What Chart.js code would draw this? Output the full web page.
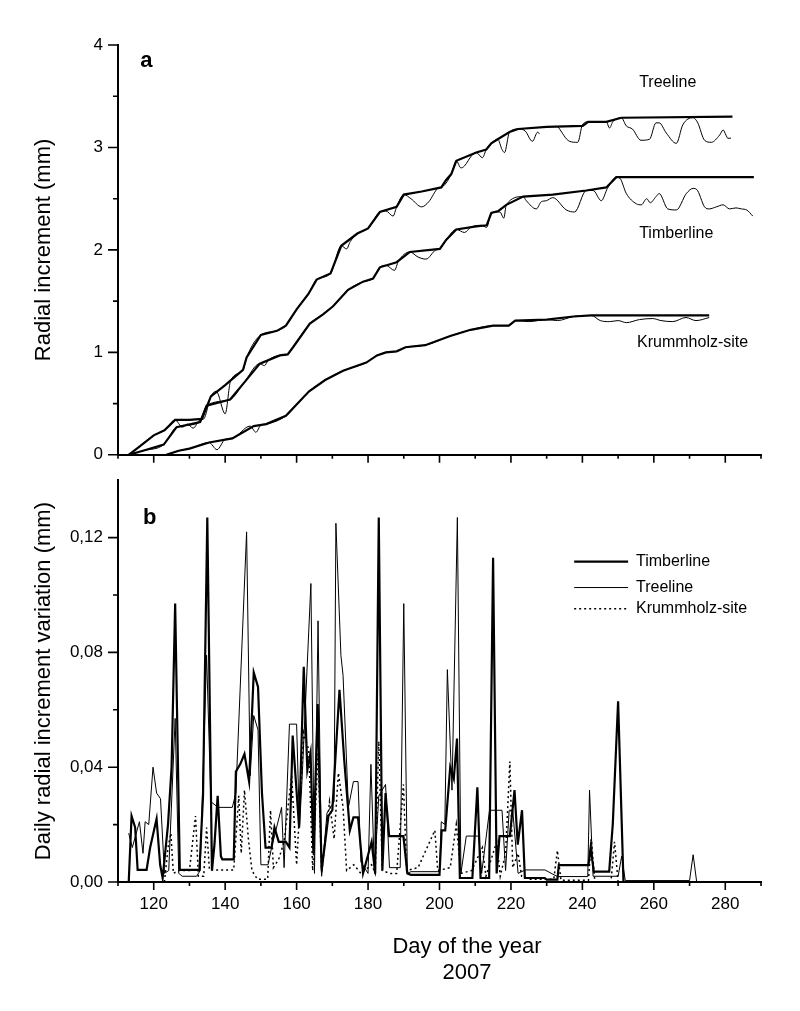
<!DOCTYPE html>
<html>
<head>
<meta charset="utf-8">
<script src="https://cdn.jsdelivr.net/npm/chart.js"></script>
<style>
  html, body { margin: 0; padding: 0; background: #fff; }
  #wrap { position: relative; width: 800px; height: 1011px; }
  canvas { position: absolute; left: 0; }
  #top { top: 0; }
  #bottom { top: 455px; }
</style>
</head>
<body>
<div id="wrap">
  <canvas id="top" width="800" height="480"></canvas>
  <canvas id="bottom" width="800" height="556"></canvas>
</div>
<script>
// ---- data: [day of year, value] ----
// panel a: radial increment (mm), thick = envelope, thin = raw dendrometer
const treelineMax = [[113,0],[116,0.08],[120,0.19],[123,0.24],[126,0.34],[130,0.34],[133.5,0.35],[136,0.57],[140,0.68],[145,0.83],[146,0.95],[150,1.17],[154.5,1.21],[157,1.26],[160,1.42],[163.3,1.57],[165.6,1.71],[169.5,1.77],[172.5,2.04],[177,2.16],[180,2.21],[183.3,2.37],[188,2.42],[190,2.54],[195,2.57],[200.5,2.61],[201.8,2.68],[203.3,2.74],[204.7,2.87],[210.3,2.95],[213.1,2.98],[214.5,3.04],[216.3,3.08],[219.6,3.15],[222,3.18],[230,3.20],[240.1,3.21],[241.6,3.25],[246.7,3.25],[250.9,3.29],[282,3.30]];
const treelineRaw = [[113,0],[116,0.08],[120,0.19],[123,0.24],[126,0.34],[128,0.27],[129.5,0.30],[131,0.26],[133,0.34],[134,0.35],[136,0.57],[137.5,0.62],[140,0.40],[141.5,0.72],[145,0.83],[146,0.95],[150,1.17],[154.5,1.21],[157,1.26],[160,1.42],[163.3,1.57],[165.6,1.71],[169.5,1.77],[172.5,2.04],[174,2.01],[175,2.08],[177,2.16],[180,2.21],[183.3,2.37],[185,2.38],[187,2.33],[188,2.42],[190,2.54],[192,2.50],[195,2.42],[197,2.47],[199.5,2.60],[201,2.62],[203.3,2.74],[204.7,2.87],[206,2.80],[207,2.82],[209,2.92],[210.3,2.95],[212,2.90],[213.1,2.98],[214.5,3.04],[216.3,3.08],[217.5,2.98],[218.2,2.95],[219.6,3.15],[222,3.18],[224,3.16],[226,3.06],[227.5,3.15],[228,3.13],[230,null],[233.2,3.20],[236.4,3.06],[238.7,3.05],[240,3.22],[241.6,3.25],[246.7,3.25],[247.6,3.19],[248.5,3.25],[250.9,3.29],[252.3,3.21],[254,3.18],[256.4,3.07],[258.8,3.08],[260.6,3.24],[261.5,3.24],[263.5,3.14],[266.3,3.04],[268.1,3.22],[271,3.29],[272.3,3.24],[274.2,3.07],[276.1,3.05],[278.4,3.12],[279.4,3.17],[280.2,3.12],[280.7,3.09],[281.6,3.09]];
const timberlineMax = [[113,0],[117,0.04],[122.8,0.10],[126.4,0.27],[133,0.32],[134.8,0.48],[141.4,0.54],[145.2,0.70],[149.7,0.89],[155.3,0.97],[157.5,0.98],[159,1.05],[163.7,1.28],[167.4,1.37],[170.2,1.45],[174.4,1.61],[178.6,1.69],[181.4,1.72],[183.3,1.83],[188,1.88],[191.7,1.98],[200.1,2.01],[201.9,2.10],[204.7,2.20],[210.3,2.23],[213.2,2.24],[214.5,2.36],[216.5,2.38],[218.7,2.44],[223.4,2.52],[231.7,2.54],[241.1,2.58],[246.7,2.61],[249.5,2.71],[288,2.71]];
const timberlineRaw = [[113,0],[117,0.04],[122.8,0.10],[126.4,0.27],[133,0.32],[134.8,0.48],[141.4,0.54],[145.2,0.70],[149.7,0.89],[151,0.87],[152,0.92],[155.3,0.97],[157.5,0.98],[159,1.05],[163.7,1.28],[167.4,1.37],[170.2,1.45],[174.4,1.61],[178.6,1.69],[181.4,1.72],[183.3,1.83],[185,1.85],[187.4,1.80],[188.5,1.89],[191.7,1.98],[194,1.93],[196.2,1.91],[199,2.00],[200.1,2.01],[201.9,2.10],[204.7,2.20],[207,2.17],[208.7,2.22],[211.7,2.24],[213.2,2.22],[214.5,2.36],[216.9,2.37],[218,2.31],[218.7,2.44],[223.4,2.52],[224.3,2.48],[227.1,2.40],[228.5,2.47],[229.9,2.48],[231.7,2.51],[235.5,2.39],[237.8,2.37],[241.1,2.58],[243,2.58],[245.3,2.48],[247,2.60],[249.5,2.71],[250.5,2.70],[252.3,2.55],[255.1,2.45],[256.5,2.44],[258,2.50],[259,2.46],[260.6,2.52],[261.5,2.55],[263.9,2.40],[266.3,2.39],[269.1,2.55],[271,2.60],[272,2.59],[274.2,2.42],[275.5,2.40],[277.5,2.42],[279.4,2.44],[281.2,2.40],[283,2.41],[284.5,2.40],[286,2.39],[287.7,2.33]];
const krummholzMax = [[123.5,0],[127,0.04],[130,0.06],[135.5,0.12],[142,0.16],[148,0.28],[151.5,0.30],[157,0.38],[163.5,0.62],[168,0.73],[173,0.82],[179.5,0.90],[182.5,0.97],[185,1.00],[188,1.01],[190.5,1.05],[196,1.07],[203,1.16],[208.7,1.22],[215,1.26],[219.4,1.26],[221.2,1.31],[230,1.32],[237.5,1.35],[242.5,1.36],[275.5,1.36]];
const krummholzRaw = [[123.5,0],[127,0.04],[130,0.06],[135.5,0.12],[137.7,0.05],[140,0.15],[142,0.16],[147,0.28],[148.6,0.22],[150,0.29],[151.5,0.30],[157,0.38],[163.5,0.62],[168,0.73],[173,0.82],[179.5,0.90],[182.5,0.97],[185,1.00],[188,1.01],[190.5,1.05],[196,1.07],[203,1.16],[208.7,1.22],[215,1.26],[219.4,1.26],[221.2,1.31],[225,1.30],[230,1.32],[233,1.31],[237.5,1.35],[242.5,1.36],[245,1.31],[247.6,1.30],[250,1.31],[252.3,1.29],[256,1.32],[259.7,1.33],[262,1.31],[265.3,1.30],[269,1.34],[271.8,1.31],[275.5,1.34]];

// panel b: daily radial increment variation (mm)
const timberlineDaily = [[113,0],[113.8,0.023],[114.8,0.019],[115.5,0.0042],[118,0.0042],[119,0.012],[120.8,0.022],[121.8,0.006],[122.5,0.0014],[124,0.02],[125,0.04],[126,0.097],[127.3,0.0042],[132.8,0.0042],[133.8,0.03],[135,0.127],[136.3,0.004],[137,0.013],[137.9,0.030],[138.8,0.009],[139.2,0.0079],[142.4,0.0079],[143,0.0385],[144.2,0.041],[145.4,0.0446],[146.7,0.035],[148,0.073],[149.2,0.068],[150.3,0.031],[151.3,0.012],[153,0.012],[153.8,0.019],[155,0.014],[157,0.014],[158,0.012],[158.9,0.051],[160.7,0.019],[162,0.075],[163,0.039],[163.9,0.045],[164.7,0.01],[165.9,0.062],[167,0.004],[168.9,0.023],[170,0.025],[172,0.067],[173.3,0.043],[174.9,0.018],[175.9,0.0225],[177.2,0.0225],[178.6,0.003],[181,0.014],[182,0.003],[183,0.127],[184,0.004],[184.9,0.031],[185.9,0.016],[189.9,0.016],[191,0.003],[192,0.0025],[200,0.0025],[200.6,0.018],[201.6,0.018],[203,0.040],[204,0.036],[204.9,0.050],[205.7,0.0014],[209.2,0.0014],[210.6,0.033],[211.5,0.0014],[213.9,0.0014],[215,0.113],[216,0.003],[216.8,0.016],[219.7,0.016],[221,0.032],[221.9,0.013],[223.1,0.025],[223.9,0.0014],[229.5,0.0014],[230,0.0008],[233,0.0008],[233.4,0.0059],[241.7,0.0059],[242.3,0.012],[243.2,0.0036],[247.5,0.0036],[248.5,0.02],[250,0.063],[251.5,0],[252,0]];
const treelineDaily = [[113,0.017],[114,0.012],[116,0.021],[117,0.01],[117.6,0.021],[118.6,0.020],[119.8,0.040],[120.8,0.031],[121.9,0.029],[123,0.003],[124.2,0.004],[126,0.057],[127,0.003],[128,0.002],[132,0.002],[133,0.004],[134.8,0.079],[136,0.028],[138,0.026],[142,0.026],[143,0.031],[146,0.122],[147,0.037],[148,0.058],[149.2,0.053],[150,0.006],[152,0.006],[153,0.012],[155.8,0.026],[156.5,0.005],[158,0.055],[160,0.055],[160.8,0.019],[161.5,0.035],[164,0.104],[165,0.003],[166,0.091],[167,0.002],[168.5,0.024],[170.5,0.028],[171,0.125],[172.4,0.079],[173,0.072],[174.5,0.026],[175.9,0.035],[177.2,0.035],[178,0.007],[180,0.003],[180.8,0.041],[181.8,0.003],[183,0.03],[184.9,0.034],[186,0.005],[189,0.005],[190,0.097],[191,0.003],[192,0.0036],[200,0.0036],[200.5,0.021],[201.5,0.02],[202.2,0.074],[203.5,0.032],[205,0.127],[206,0.003],[207.5,0.016],[211,0.016],[211.8,0.003],[214,0.025],[217.5,0.025],[218.5,0.004],[219.5,0.025],[220.5,0.025],[222,0.003],[224,0.0042],[229.5,0.0042],[233,0.0019],[241.5,0.0019],[242,0.032],[243,0.002],[250,0.002],[251,0.009],[252,0.0005],[270,0.0005],[271,0.0095],[272,0]];
const krummholzDaily = [[123,0],[124,0.012],[124.8,0.017],[125.5,0.003],[127,0.004],[130,0.004],[131.7,0.023],[132.5,0.002],[134,0.002],[134.8,0.019],[135.6,0.0042],[142.4,0.0042],[143.8,0.030],[144.5,0.01],[145.4,0.032],[146.5,0.015],[147.5,0.004],[149,0.001],[151.9,0.001],[152.7,0.025],[153.5,0.005],[155,0.008],[156.5,0.014],[158.6,0.037],[160,0.006],[162,0.052],[163.4,0.046],[164.5,0.004],[166,0.045],[167,0.003],[169.2,0.028],[170.5,0.015],[171.7,0.038],[173,0.026],[174,0.004],[176,0.006],[178,0.003],[181,0.006],[182,0.003],[183,0.049],[184,0.004],[186,0.003],[188,0.003],[189.9,0.034],[190.8,0.004],[194,0.005],[198.7,0.018],[199.5,0.004],[203,0.005],[204.7,0.02],[206,0.003],[209,0.004],[212,0.012],[213,0.002],[216,0.014],[217,0.002],[218.5,0.01],[219.7,0.042],[220.5,0.005],[222,0.01],[223,0.002],[225,0.001],[232,0.001],[233,0.011],[234,0.0006],[241.7,0.0006],[242.5,0.015],[243.5,0],[248,0],[249,0.014],[250,0],[251,0]];

// tick labels
const dayTicks = [120, 140, 160, 180, 200, 220, 240, 260, 280];
const mmTicks = [0, 1, 2, 3, 4];
const varTicks = [0, 0.04, 0.08, 0.12];

const FONT = "'Liberation Sans', Arial, sans-serif";
Chart.defaults.font.family = FONT;
Chart.defaults.color = "#000";

function pts(pairs) {
  return pairs.map(p => ({ x: p[0], y: p[1] }));
}

function series(label, pairs, width, dash, smooth) {
  return {
    label: label,
    data: pts(pairs),
    borderColor: "#000",
    borderWidth: width,
    borderDash: dash || [],
    pointRadius: 0,
    tension: smooth ? 0.3 : 0,
    cubicInterpolationMode: smooth ? "monotone" : "default",
    fill: false,
    spanGaps: false
  };
}

// small/large tick marks like the original plot (major every 20 days)
var xMarks = [];
for (var d = 110; d <= 290; d += 10) xMarks.push([d, d % 20 === 0 ? 8 : 4]);
var yMarksA = [];
for (var i = 0; i <= 8; i++) yMarksA.push([i * 0.5, i % 2 === 0 ? 10 : 5]);
var yMarksB = [];
for (var j = 0; j <= 6; j++) yMarksB.push([j * 0.02, j % 2 === 0 ? 10 : 5]);

const tickMarks = {
  id: "tickMarks",
  afterDraw(chart, args, opts) {
    const ctx = chart.ctx, area = chart.chartArea;
    const xs = chart.scales.x, ys = chart.scales.y;
    ctx.save();
    ctx.strokeStyle = "#000";
    ctx.lineWidth = 1.6;
    ctx.beginPath();
    opts.x.forEach(m => {
      const px = xs.getPixelForValue(m[0]);
      ctx.moveTo(px, area.bottom);
      ctx.lineTo(px, area.bottom + m[1]);
    });
    opts.y.forEach(m => {
      const py = ys.getPixelForValue(m[0]);
      ctx.moveTo(area.left, py);
      ctx.lineTo(area.left - m[1], py);
    });
    ctx.stroke();
    ctx.restore();
  }
};

const notes = {
  id: "notes",
  afterDraw(chart, args, opts) {
    const ctx = chart.ctx, xs = chart.scales.x, ys = chart.scales.y;
    ctx.save();
    ctx.fillStyle = "#000";
    ctx.textBaseline = "middle";
    (opts.items || []).forEach(n => {
      ctx.font = n.font;
      ctx.textAlign = n.align || "left";
      const py = n.dy !== undefined ? chart.chartArea.bottom + n.dy : ys.getPixelForValue(n.y);
      ctx.fillText(n.text, xs.getPixelForValue(n.x), py);
    });
    // legend keys, styled from the datasets
    (opts.keys || []).forEach(k => {
      const ds = chart.data.datasets[k.index];
      const py = ys.getPixelForValue(k.y);
      ctx.beginPath();
      ctx.setLineDash(ds.borderDash || []);
      ctx.lineWidth = ds.borderWidth;
      ctx.strokeStyle = "#000";
      ctx.moveTo(xs.getPixelForValue(k.x0), py);
      ctx.lineTo(xs.getPixelForValue(k.x1), py);
      ctx.stroke();
      ctx.setLineDash([]);
      ctx.font = "16px " + FONT;
      ctx.textAlign = "left";
      ctx.fillText(ds.label, xs.getPixelForValue(k.tx), py);
    });
    ctx.restore();
  }
};

function xScale(showLabels, height) {
  return {
    type: "linear",
    min: 110,
    max: 290,
    afterBuildTicks: s => { s.ticks = dayTicks.map(v => ({ value: v })); },
    ticks: { display: showLabels, padding: 12, font: { size: 17 }, color: "#000" },
    grid: { display: false, drawTicks: false },
    border: { color: "#000", width: 2 },
    afterFit: s => { s.height = height; }
  };
}

function yScale(max, ticks, fmt, title, titleSize) {
  return {
    type: "linear",
    min: 0,
    max: max,
    afterBuildTicks: s => { s.ticks = ticks.map(v => ({ value: v })); },
    ticks: { padding: 15, font: { size: 17 }, color: "#000", callback: fmt },
    grid: { display: false, drawTicks: false },
    border: { color: "#000", width: 2 },
    title: { display: true, text: title, color: "#000", font: { size: titleSize }, padding: { top: 31, bottom: 0 } },
    afterFit: s => { s.width = 118; }
  };
}

new Chart(document.getElementById("top"), {
  type: "line",
  data: {
    datasets: [
      series("Treeline", treelineMax, 2.2),
      series("Timberline", timberlineMax, 2.2),
      series("Krummholz-site", krummholzMax, 2.2),
      series("Treeline raw", treelineRaw, 1, null, true),
      series("Timberline raw", timberlineRaw, 1, null, true),
      series("Krummholz-site raw", krummholzRaw, 1, null, true)
    ]
  },
  options: {
    responsive: false,
    animation: false,
    layout: { padding: { left: 0, right: 39, top: 45, bottom: 0 } },
    plugins: {
      legend: { display: false },
      tooltip: { enabled: false },
      tickMarks: { x: xMarks, y: yMarksA },
      notes: {
        items: [
          { text: "a", x: 116.2, y: 3.84, font: "bold 22px " + FONT },
          { text: "Treeline", x: 255.9, y: 3.63, font: "16px " + FONT },
          { text: "Timberline", x: 255.9, y: 2.16, font: "16px " + FONT },
          { text: "Krummholz-site", x: 255.3, y: 1.10, font: "16px " + FONT }
        ]
      }
    },
    scales: {
      x: xScale(false, 17),
      y: yScale(4, mmTicks, v => String(v), "Radial increment (mm)", 22)
    }
  },
  plugins: [tickMarks, notes]
});

new Chart(document.getElementById("bottom"), {
  type: "line",
  data: {
    datasets: [
      series("Timberline", timberlineDaily, 2.2),
      series("Treeline", treelineDaily, 1),
      series("Krummholz-site", krummholzDaily, 1.5, [2, 3])
    ]
  },
  options: {
    responsive: false,
    animation: false,
    layout: { padding: { left: 0, right: 39, top: 8, bottom: 0 } },
    plugins: {
      legend: { display: false },
      tooltip: { enabled: false },
      tickMarks: { x: xMarks, y: yMarksB },
      notes: {
        items: [
          { text: "b", x: 117, y: 0.127, font: "bold 22px " + FONT },
          { text: "Day of the year", x: 207.7, dy: 65, align: "center", font: "22px " + FONT },
          { text: "2007", x: 207.7, dy: 91, align: "center", font: "22px " + FONT }
        ],
        keys: [
          { index: 0, x0: 237.7, x1: 252.8, tx: 255, y: 0.1116 },
          { index: 1, x0: 237.7, x1: 252.8, tx: 255, y: 0.1026 },
          { index: 2, x0: 237.7, x1: 252.8, tx: 255, y: 0.0952 }
        ]
      }
    },
    scales: {
      x: xScale(true, 129),
      y: yScale(0.14, varTicks, v => v.toFixed(2).replace(".", ","), "Daily radial increment variation (mm)", 22)
    }
  },
  plugins: [tickMarks, notes]
});
</script>
</body>
</html>
